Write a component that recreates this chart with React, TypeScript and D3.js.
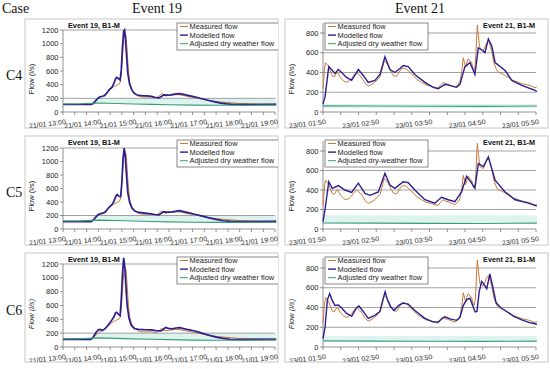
import React from 'react';
import * as d3 from 'd3';

type Pt = [number, number];

// Event 19: minutes after 21/01 13:00, flow in l/s
const e19Measured: Pt[] = [
  [0, 115], [20, 112], [40, 114], [48, 118], [52, 140], [56, 175], [60, 205], [63, 225], [67, 232], [71, 260],
  [75, 290], [79, 320], [83, 350], [86, 370], [89, 380], [92, 395], [95, 405], [97, 430], [99, 560], [101, 820],
  [103, 1060], [105, 1150], [107, 1120], [109, 880], [111, 620], [113, 450], [116, 350], [119, 300], [123, 270],
  [127, 235], [132, 222], [140, 218], [148, 222], [155, 212], [160, 215], [164, 240], [167, 268], [170, 262],
  [173, 235], [178, 240], [185, 248], [192, 255], [199, 250], [206, 238], [214, 225], [222, 212], [230, 200],
  [238, 185], [246, 170], [254, 160], [262, 152], [270, 145], [278, 140], [286, 135], [294, 128], [302, 122],
  [310, 125], [318, 118], [326, 120], [334, 116], [342, 118], [350, 115], [362, 116],
];
const e19ModelC4: Pt[] = [
  [0, 110], [48, 110], [52, 128], [56, 170], [60, 205], [63, 222], [67, 230], [71, 240], [75, 285], [79, 330],
  [83, 360], [86, 410], [89, 480], [91, 505], [94, 490], [97, 470], [99, 620], [101, 950], [103, 1180],
  [104.5, 1200], [106, 1080], [108, 820], [110, 570], [113, 410], [117, 320], [121, 272], [126, 248], [133, 240],
  [142, 235], [150, 228], [157, 212], [163, 207], [167, 228], [171, 252], [176, 248], [183, 252], [190, 262],
  [197, 270], [203, 262], [210, 248], [218, 232], [228, 212], [238, 190], [248, 168], [258, 148], [268, 130],
  [278, 118], [290, 110], [310, 108], [330, 110], [362, 112],
];
const e19ModelC5: Pt[] = [
  [0, 110], [48, 110], [52, 135], [56, 180], [60, 215], [64, 228], [68, 235], [72, 250], [76, 300], [80, 335],
  [84, 370], [87, 420], [90, 490], [92, 510], [95, 485], [98, 480], [100, 700], [102, 1050], [104, 1200],
  [106, 1050], [108, 780], [110, 540], [113, 400], [117, 310], [122, 265], [128, 245], [136, 238], [146, 228],
  [156, 215], [163, 210], [167, 235], [171, 255], [178, 250], [186, 255], [193, 265], [198, 272], [205, 258],
  [214, 240], [225, 215], [237, 190], [248, 165], [260, 142], [272, 122], [285, 112], [300, 108], [330, 110],
  [362, 112],
];
const e19ModelC6: Pt[] = [
  [0, 110], [48, 110], [52, 150], [56, 210], [60, 250], [63, 255], [67, 240], [71, 262], [75, 300], [79, 345],
  [83, 390], [86, 430], [89, 490], [91, 500], [94, 475], [97, 455], [99, 700], [101, 1050], [103, 1290],
  [105, 1150], [107, 850], [109, 600], [112, 420], [116, 310], [121, 268], [128, 255], [138, 250], [150, 248],
  [160, 235], [166, 232], [170, 250], [174, 282], [179, 270], [185, 262], [192, 275], [198, 280], [205, 265],
  [213, 250], [222, 235], [232, 212], [242, 185], [252, 160], [262, 140], [272, 124], [284, 112], [300, 108],
  [330, 110], [362, 112],
];
const e19Dry: Pt[] = [
  [0, 118], [30, 120], [50, 128], [60, 132], [90, 125], [120, 118], [150, 112], [180, 106], [220, 100],
  [260, 98], [300, 98], [362, 100],
];

// Event 21: minutes after 23/01 01:50, flow in l/s
const e21Measured: Pt[] = [
  [0, 240], [1.5, 420], [2.8, 500], [4.5, 480], [6, 470], [8, 420], [9.8, 380], [11.5, 355], [13.5, 365],
  [15.2, 395], [16.8, 400], [18.5, 365], [21, 335], [23.5, 310], [26.6, 300], [29.5, 315], [32.3, 340],
  [35, 375], [37.9, 400], [40.5, 380], [44.3, 340], [47.5, 290], [51, 262], [54, 275], [58.5, 300],
  [61.5, 330], [64.2, 355], [66.5, 430], [69, 520], [71, 500], [73.6, 470], [76.5, 410], [79.2, 370],
  [82.9, 360], [85.5, 400], [88.5, 440], [91.5, 445], [94.1, 435], [98, 400], [101.6, 370], [106, 330],
  [111, 300], [116, 275], [122.3, 262], [126, 250], [129.8, 242], [132.5, 275], [135.5, 300], [138.5, 285],
  [141.1, 280], [145, 262], [148.6, 252], [151.5, 270], [154.3, 310], [156.5, 420], [158, 550], [159.5, 500],
  [160.7, 455], [162.3, 510], [163.7, 540], [165.5, 520], [167.5, 500], [169, 440], [170.1, 420], [171.5, 470],
  [172.4, 600], [173.2, 780], [173.9, 880], [175.2, 760], [176.9, 640], [178.8, 630], [180.7, 620],
  [182.5, 660], [184.4, 700], [186, 720], [187.1, 715], [188.6, 660], [190.1, 620], [192.5, 500], [195.8, 420],
  [198.5, 400], [201.4, 390], [205, 370], [208.9, 350], [214, 320], [220.2, 300], [225, 285], [231.5, 272],
  [235, 262], [239, 245], [241, 258],
];
const e21ModelC4: Pt[] = [
  [0, 80], [2.3, 155], [6.5, 460], [10.5, 420], [13.5, 390], [17.3, 430], [21, 400], [26.6, 350], [32.3, 320],
  [39.8, 430], [45.4, 370], [51, 300], [58.5, 320], [64.2, 380], [69.8, 560], [75.4, 430], [81, 400],
  [86.7, 440], [90.4, 470], [96, 460], [103.5, 380], [114.8, 300], [124.2, 250], [129.8, 235], [137.4, 280],
  [144.9, 265], [150.5, 250], [154.3, 280], [159.9, 460], [165.6, 500], [169.4, 420], [171.2, 380], [175, 650],
  [178.8, 630], [182.5, 600], [186.3, 740], [190.1, 670], [193.9, 500], [205.2, 420], [212.7, 320], [224, 270],
  [239, 220], [241, 205],
];
const e21ModelC5: Pt[] = [
  [0, 75], [2.3, 200], [6.5, 485], [10.5, 417], [17.3, 445], [24.8, 400], [32.3, 375], [39.8, 470], [47.3, 365],
  [53, 345], [62.3, 380], [69.8, 570], [75.4, 450], [81, 417], [90.4, 485], [96, 475], [103.5, 400],
  [114.8, 300], [126, 265], [133.6, 325], [141.1, 300], [148.6, 280], [156.1, 380], [161.8, 540], [167.5, 470],
  [171.2, 417], [175, 670], [180.7, 640], [186.3, 740], [193.9, 500], [205.2, 380], [216.5, 300], [231.5, 265],
  [241, 235],
];
const e21ModelC6: Pt[] = [
  [0, 85], [2.3, 200], [5, 480], [7.5, 540], [10.5, 470], [13.5, 420], [17.3, 425], [21, 395], [26.6, 340],
  [32.3, 310], [38, 400], [40.5, 415], [45.4, 360], [51, 290], [58.5, 320], [64.2, 360], [67.5, 480], [70, 560],
  [73, 470], [76, 410], [80, 370], [85, 420], [90, 445], [96, 435], [103.5, 370], [114.8, 290], [124, 255],
  [129.8, 252], [135, 295], [137.4, 305], [143, 285], [150.5, 270], [154.3, 300], [158, 420], [162, 480],
  [165.6, 495], [169.4, 400], [171.5, 355], [173.5, 360], [176, 560], [178.8, 665], [182.5, 620], [184.5, 590],
  [188, 740], [191, 620], [195, 450], [200, 400], [205.2, 370], [215, 310], [224, 275], [232, 250], [241, 230],
];
const e21Dry: Pt[] = [[0, 62], [60, 60], [120, 58], [180, 57], [241, 60]];
const e21BandLow = [40, 58, 62];
const e21BandHigh = [80, 140, 115];

const cases = ['C4', 'C5', 'C6'];
const e19Ticks = ['21/01 13:00', '21/01 14:00', '21/01 15:00', '21/01 16:00', '21/01 17:00', '21/01 18:00', '21/01 19:00'];
const e21Ticks = ['23/01 01:50', '23/01 02:50', '23/01 03:50', '23/01 04:50', '23/01 05:50'];
const e19Legend = ['Measured flow', 'Modelled flow', 'Adjusted dry weather flow'];
const e21Legend = [
  ['Measured flow', 'Modelled flow', 'Adjusted dry weather flow'],
  ['Measured flow', 'Modelled flow', 'Adjusted dry-weather flow'],
  ['Measured flow', 'Modelled flow', 'Adjusted dry weather flow'],
];

const SANS = '"Liberation Sans", Arial, sans-serif';
const SERIF = '"Liberation Serif", "DejaVu Serif", serif';
const C_MEAS = '#c8783a';
const C_MOD = '#2b1f8f';
const C_DRY = '#3c9c74';
const C_BAND = '#dcf3ef';

const rowTop = [19, 136, 253];
const rowZero = [112, 229, 347];
const leftTopY = [30, 148, 264];
const rightTopY = [33, 151, 268];

function Panel({ left, row }: { left: boolean; row: number }) {
  const bx = left ? 25 : 285;
  const bw = left ? 253 : 263;
  const top = rowTop[row];
  const y0 = rowZero[row];
  const pL = left ? 63 : 323;
  const pR = left ? 275 : 536;
  const x = d3.scaleLinear().domain(left ? [0, 360] : [0, 240]).range([pL, pR]);
  const y = d3.scaleLinear().domain(left ? [0, 1200] : [0, 800]).range([y0, left ? leftTopY[row] : rightTopY[row]]);
  const yMax = left ? 1200 : 900;
  const yTicks = d3.range(0, (left ? 1200 : 800) + 1, 200);
  const grid = left ? [200, 1200] : [200, 400, 600, 800];
  const line = d3.line<Pt>().x(d => x(d[0])).y(d => y(d[1]));
  const measured = left ? e19Measured : e21Measured;
  const modelled = left ? [e19ModelC4, e19ModelC5, e19ModelC6][row] : [e21ModelC4, e21ModelC5, e21ModelC6][row];
  const dry = left ? e19Dry : e21Dry;
  const band = left
    ? d3.area<Pt>().x(d => x(d[0])).y0(y(200)).y1(d => y(d[1]))(dry.filter(d => d[0] >= 50))
    : d3.area<Pt>().x(d => x(d[0])).y0(y(e21BandLow[row])).y1(y(e21BandHigh[row]))(dry);
  const majors = d3.range(0, (left ? 360 : 240) + 1, 60);
  const minors = d3.range(0, (left ? 360 : 240) + 1, 20);
  const labels = left ? e19Ticks : e21Ticks;
  const legend = left ? e19Legend : e21Legend[row];
  const lx = left ? 177 : 325;
  const lw = left ? 104 : 103;
  const ly = top + 4;
  const clipId = `clip-${left ? 19 : 21}-${row}`;
  const title = left ? 'Event 19, B1-M' : 'Event 21, B1-M';

  return (
    <g>
      <defs>
        <clipPath id={clipId}>
          <rect x={bx} y={top} width={bw} height={109} />
        </clipPath>
      </defs>
      <rect x={bx} y={top} width={bw} height={109} fill="#fff" stroke="#c8c8c8" strokeWidth={1} />
      <g clipPath={`url(#${clipId})`}>
        <path d={band || ''} fill={C_BAND} />
        {grid.map(g => (
          <line key={g} x1={pL} x2={pR} y1={y(g)} y2={y(g)} stroke="#8c8c8c" strokeWidth={0.8} />
        ))}
        {/* axes */}
        <line x1={pL} x2={pL} y1={y0} y2={y(yMax)} stroke="#777" strokeWidth={0.8} />
        <line x1={pL} x2={pR} y1={y0} y2={y0} stroke="#777" strokeWidth={0.8} />
        {yTicks.map(t => (
          <g key={t}>
            <line x1={pL - 3} x2={pL} y1={y(t)} y2={y(t)} stroke="#777" strokeWidth={0.8} />
            <text x={pL - 4.5} y={y(t)} dy="0.35em" textAnchor="end" fontSize={7.5} fontFamily={SANS} fill="#222">
              {t}
            </text>
          </g>
        ))}
        {minors.map(m => (
          <line key={m} x1={x(m)} x2={x(m)} y1={y0} y2={y0 + 3} stroke="#777" strokeWidth={0.8} />
        ))}
        {majors.map((m, i) => (
          <text
            key={m}
            x={x(m) + 3}
            y={y0 + 12}
            textAnchor="end"
            fontSize={7}
            fontFamily={SANS}
            fill="#222"
            transform={`rotate(-7, ${x(m) + 3}, ${y0 + 12})`}
          >
            {labels[i]}
          </text>
        ))}
        {/* series */}
        <path d={line(measured) || ''} fill="none" stroke={C_MEAS} strokeWidth={1} />
        <path d={line(modelled) || ''} fill="none" stroke={C_MOD} strokeWidth={left ? 1.7 : 1.4} />
        <path d={line(dry) || ''} fill="none" stroke={C_DRY} strokeWidth={1.1} />
        {/* legend */}
        <rect x={lx} y={ly} width={lw} height={27} fill="#fff" stroke="#555" strokeWidth={0.7} />
        {legend.map((name, i) => {
          const by = ly + 6 + i * 8.6;
          const col = [C_MEAS, C_MOD, C_DRY][i];
          return (
            <g key={name}>
              <line x1={lx + 3} x2={lx + 11} y1={by - 2.5} y2={by - 2.5} stroke={col} strokeWidth={i === 1 ? 1.4 : 1} />
              <text x={lx + 12.5} y={by} fontSize={7.4} fontFamily={SANS} fill="#222">{name}</text>
            </g>
          );
        })}
        <text
          x={left ? 68 : 535}
          y={top + 9}
          textAnchor={left ? 'start' : 'end'}
          fontSize={7.3}
          fontWeight="bold"
          fontFamily={SANS}
          fill="#111"
        >
          {title}
        </text>
        <text
          transform={`translate(${left ? 34 : 294}, ${y0 - 33}) rotate(-90)`}
          textAnchor="middle"
          fontSize={7.5}
          fontStyle={row === 2 ? 'italic' : 'normal'}
          fontFamily={SANS}
          fill="#222"
        >
          Flow (l/s)
        </text>
      </g>
    </g>
  );
}

export default function App() {
  return (
    <svg
      width={550}
      height={369}
      style={{ position: 'absolute', left: 0, top: 0, background: '#fff' }}
    >
      <text x={2} y={13} fontSize={14} fontFamily={SERIF} fill="#111">Case</text>
      <text x={157} y={13} fontSize={14} textAnchor="middle" fontFamily={SERIF} fill="#111">Event 19</text>
      <text x={420} y={13} fontSize={14} textAnchor="middle" fontFamily={SERIF} fill="#111">Event 21</text>
      {cases.map((c, r) => (
        <g key={c}>
          <text x={6} y={rowZero[r] - 32} fontSize={14} fontFamily={SERIF} fill="#111">{c}</text>
          <Panel left={true} row={r} />
          <Panel left={false} row={r} />
        </g>
      ))}
    </svg>
  );
}
